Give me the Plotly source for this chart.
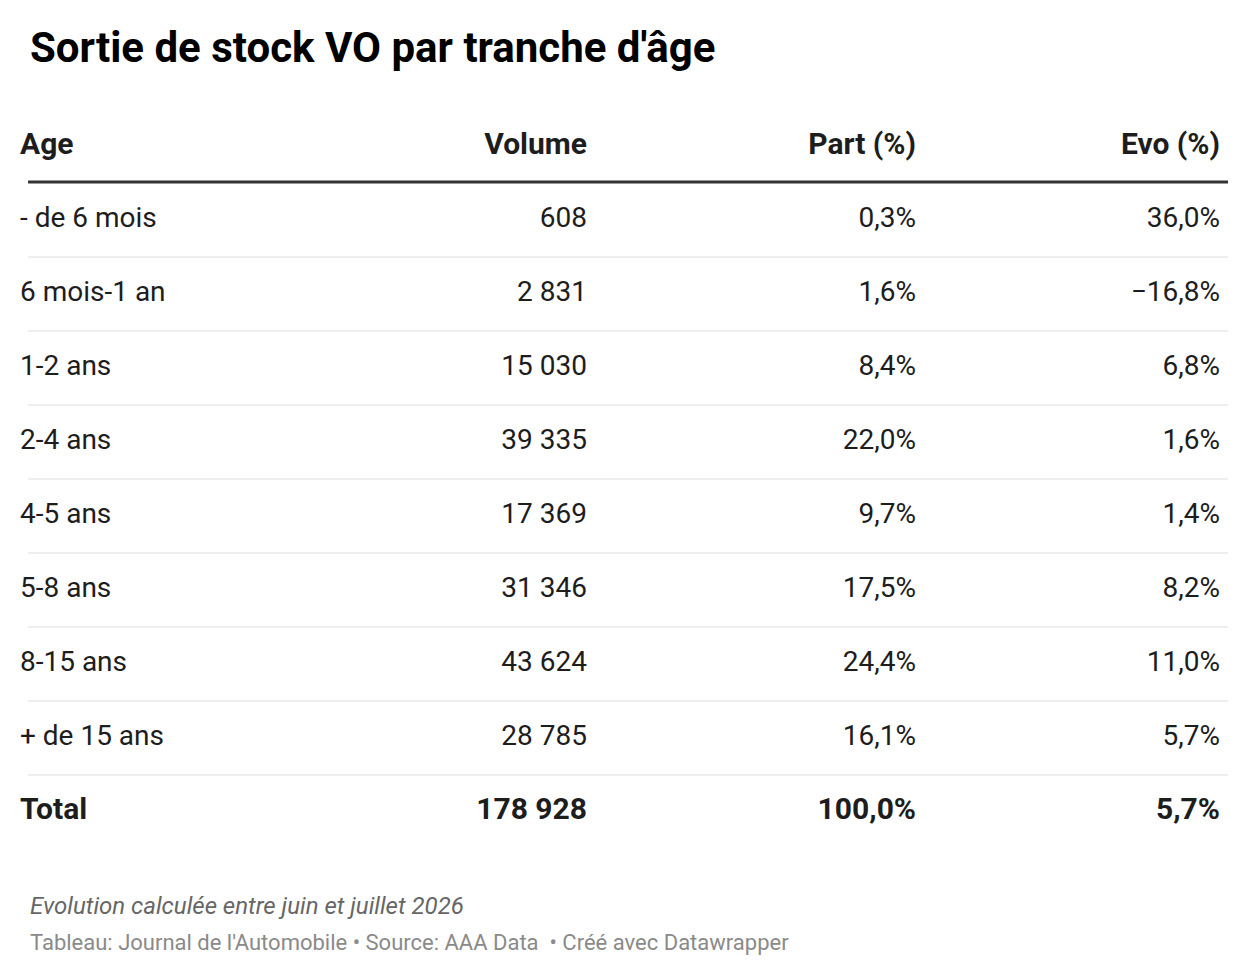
import plotly.graph_objects as go

ages = ["- de 6 mois", "6 mois-1 an", "1-2 ans", "2-4 ans", "4-5 ans",
        "5-8 ans", "8-15 ans", "+ de 15 ans"]
volume = ["608", "2 831", "15 030", "39 335", "17 369", "31 346", "43 624", "28 785"]
part = ["0,3%", "1,6%", "8,4%", "22,0%", "9,7%", "17,5%", "24,4%", "16,1%"]
evo = ["36,0%", "−16,8%", "6,8%", "1,6%", "1,4%", "8,2%", "11,0%", "5,7%"]
headers = ["Age", "Volume", "Part (%)", "Evo (%)"]
total = ["Total", "178 928", "100,0%", "5,7%"]

cols = [ages, volume, part, evo]
xpos = [0, 0.4725, 0.7467, 1.0]
nrows = len(ages)
rows_y = list(range(-1, nrows + 1))

fig = go.Figure()
for j, col in enumerate(cols):
    texts = ["<b>%s</b>" % headers[j]] + col + ["<b>%s</b>" % total[j]]
    sizes = [30] + [28] * nrows + [30]
    fig.add_trace(go.Scatter(
        x=[xpos[j]] * len(texts), y=rows_y, mode="text", text=texts,
        textposition="middle right" if j == 0 else "middle left",
        textfont=dict(size=sizes, color="#1d1d1d", family="Roboto"),
        hoverinfo="skip", cliponaxis=False))

shapes = [dict(type="line", xref="paper", yref="y", x0=0.0067, x1=1.0067, y0=-0.514, y1=-0.514,
               line=dict(color="#333", width=3))]
for i in range(nrows):
    shapes.append(dict(type="line", xref="paper", yref="y", x0=0.0067, x1=1.0067,
                       y0=i + 0.5, y1=i + 0.5, line=dict(color="#dddddd", width=1)))

fig.update_layout(
    width=1240, height=974, showlegend=False,
    margin=dict(l=12, r=28, t=94, b=130),
    paper_bgcolor="white", plot_bgcolor="white",
    font=dict(family="Roboto"),
    xaxis=dict(range=[0, 1], visible=False, fixedrange=True),
    yaxis=dict(range=[8.541, -1.595], visible=False, fixedrange=True),
    shapes=shapes,
    annotations=[
        dict(text="<b>Sortie de stock VO par tranche d'âge</b>", xref="paper", yref="paper",
             x=0.0067, y=1.0733, xanchor="left", yanchor="middle", showarrow=False,
             font=dict(size=42, color="#000")),
        dict(text="<i>Evolution calculée entre juin et juillet 2026</i>", xref="paper", yref="paper",
             x=0.0067, y=-0.072, xanchor="left", yanchor="middle", showarrow=False,
             font=dict(size=24, color="#666")),
        dict(text="Tableau: Journal de l'Automobile • Source: AAA Data  • Créé avec Datawrapper",
             xref="paper", yref="paper", x=0.0067, y=-0.12, xanchor="left", yanchor="middle",
             showarrow=False, font=dict(size=22, color="#8a8a8a")),
    ],
)
fig.write_html("out.html")
